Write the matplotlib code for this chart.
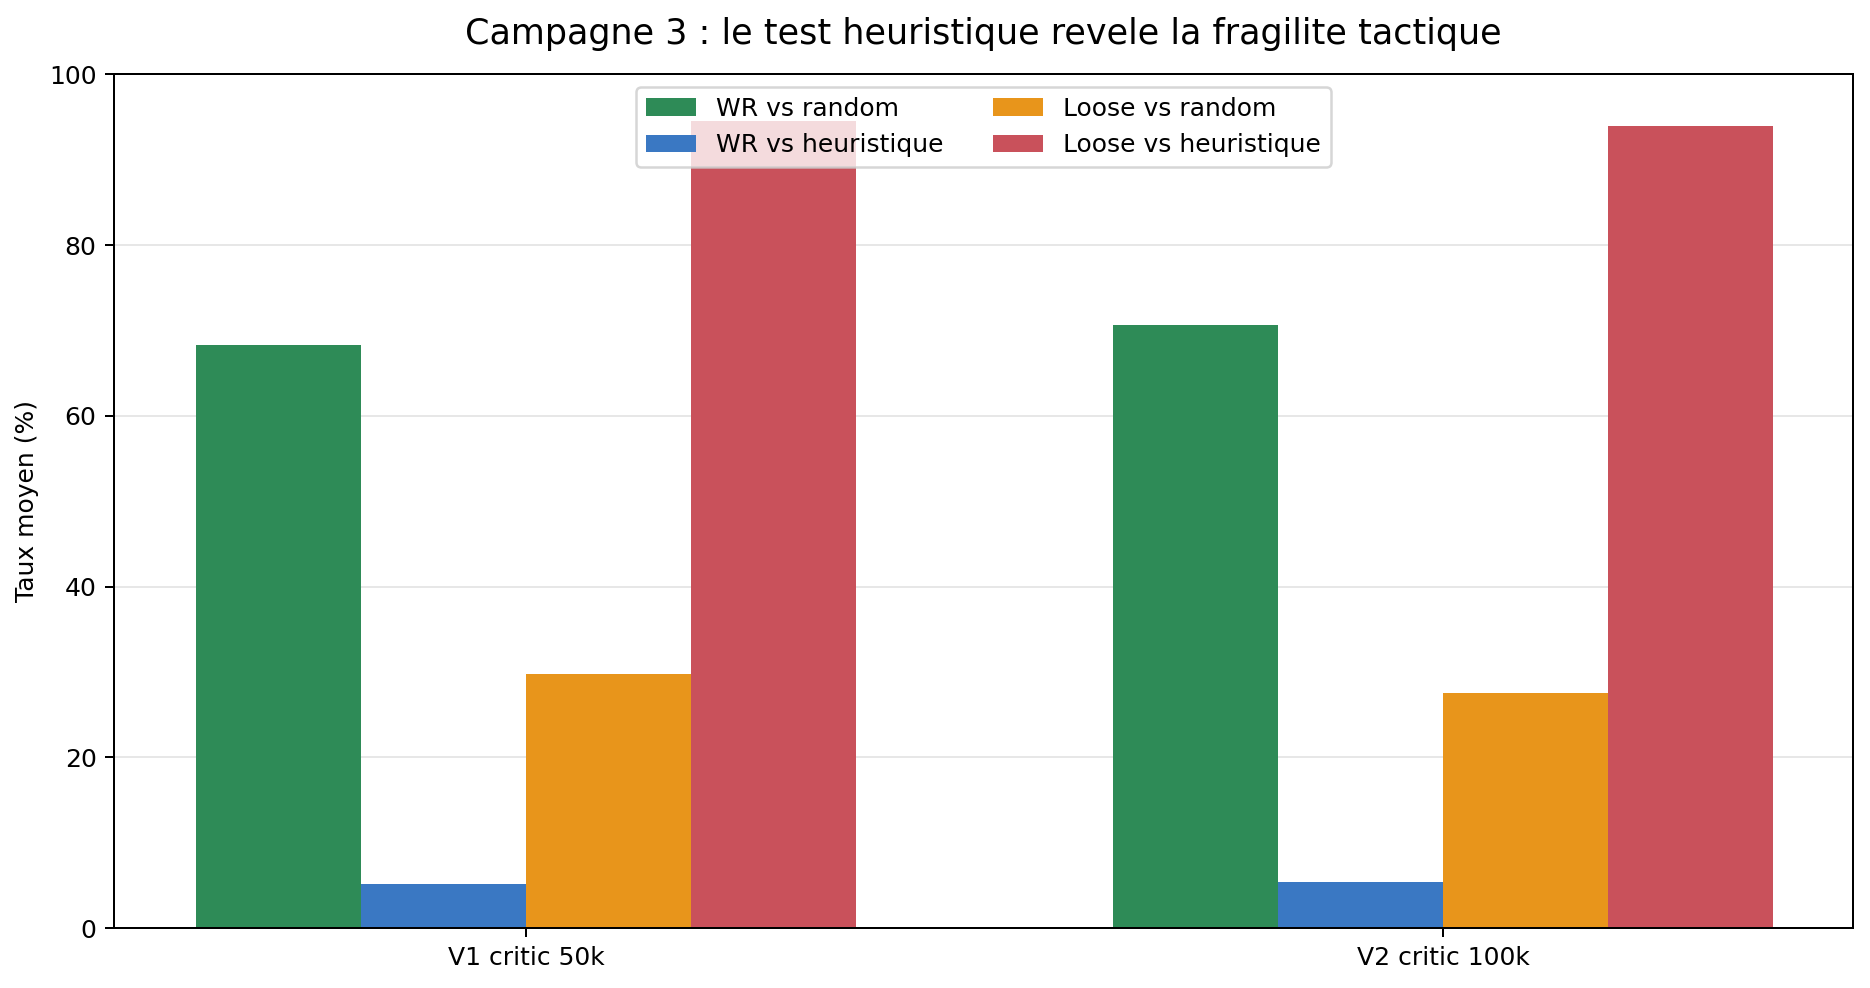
import matplotlib
matplotlib.use('Agg')
import matplotlib.pyplot as plt
import numpy as np

# data
versions = ['V1 critic 50k', 'V2 critic 100k']
wr_random = [68.3, 70.6]
wr_heuristic = [5.1, 5.4]
loose_random = [29.7, 27.5]
loose_heuristic = [94.5, 93.9]

series = [
    ('WR vs random', wr_random, '#2e8b57'),
    ('WR vs heuristique', wr_heuristic, '#3a78c3'),
    ('Loose vs random', loose_random, '#e8951b'),
    ('Loose vs heuristique', loose_heuristic, '#c9515b'),
]


def main():
    fig = plt.figure(figsize=(1870 / 180, 988 / 180), dpi=180)
    ax = fig.add_axes([0.061, 0.0607, 0.930, 0.864])

    x = np.arange(len(versions))
    width = 0.18
    for i, (label, values, color) in enumerate(series):
        ax.bar(x + (i - 1.5) * width, values, width, label=label, color=color, zorder=2)

    ax.set_xticks(x)
    ax.set_xticklabels(versions)
    ax.set_xlim(-0.449, 1.447)
    ax.set_ylim(0, 100)
    ax.set_ylabel('Taux moyen (%)')
    ax.set_title('Campagne 3 : le test heuristique revele la fragilite tactique',
                 fontsize=14, pad=12)
    ax.grid(axis='y', alpha=0.3, zorder=0)
    ax.set_axisbelow(True)
    ax.legend(loc='upper center', ncol=2)

    fig.savefig('out.png', dpi=180)


if __name__ == "__main__":
    main()
